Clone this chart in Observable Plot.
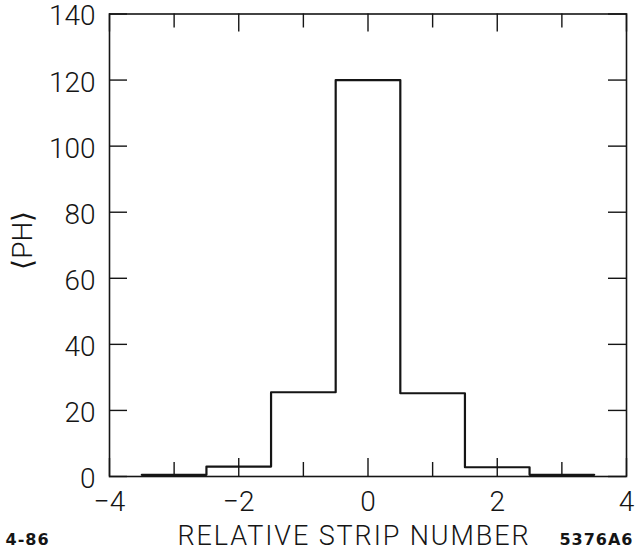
<!DOCTYPE html>
<html><head><meta charset="utf-8">
<script src="https://cdn.jsdelivr.net/npm/d3@7"></script>
<script src="https://cdn.jsdelivr.net/npm/@observablehq/plot@0.6"></script>
<style>body{margin:0;background:#fff}</style>
</head><body><div id="chart"></div>
<script>
// Data
const strips = [-3, -2, -1, 0, 1, 2, 3];
const meanPH = [0.5, 3, 25.5, 120, 25.2, 2.8, 0.5];
const xTicks = [-4, -2, 0, 2, 4];
const xMinorTicks = [-3, -1, 1, 3];
const yTicks = [0, 20, 40, 60, 80, 100, 120, 140];
const xLabel = "RELATIVE STRIP NUMBER";
const yLabel = "⟨PH⟩";
const dateNote = "4-86";
const figureId = "5376A6";

const W = 635, H = 552, mt = 13.5, mb = 76, ml = 109, mr = 9;
const innerW = W - ml - mr, innerH = H - mt - mb;
const ink = "#151515";

// step outline: left edge of each strip, plus the right edge of the last one
const stepData = strips.map((s, i) => ({x: s - 0.5, y: meanPH[i]}))
  .concat([{x: strips[strips.length - 1] + 0.5, y: meanPH[meanPH.length - 1]}]);

const font = {fontSize: 28, fontWeight: 300, fill: ink};

const chart = Plot.plot({
  width: W, height: H,
  marginTop: mt, marginBottom: mb, marginLeft: ml, marginRight: mr,
  style: {fontFamily: "Roboto, 'DejaVu Sans', sans-serif", background: "#fff", color: ink},
  x: {domain: [-4, 4]},
  y: {domain: [0, 140]},
  marks: [
    Plot.frame({stroke: ink, strokeWidth: 1.6}),
    // inward ticks, bottom & top
    Plot.tickX(xTicks, {x: d => d, insetTop: innerH - 18, stroke: ink, strokeWidth: 1.4}),
    Plot.tickX(xTicks, {x: d => d, insetBottom: innerH - 18, stroke: ink, strokeWidth: 1.4}),
    Plot.tickX(xMinorTicks, {x: d => d, insetTop: innerH - 14, stroke: ink, strokeWidth: 1.4}),
    Plot.tickX(xMinorTicks, {x: d => d, insetBottom: innerH - 14, stroke: ink, strokeWidth: 1.4}),
    // inward ticks, left & right
    Plot.tickY(yTicks, {y: d => d, insetRight: innerW - 18, stroke: ink, strokeWidth: 1.4}),
    Plot.tickY(yTicks, {y: d => d, insetLeft: innerW - 18, stroke: ink, strokeWidth: 1.4}),
    Plot.axisX(xTicks, {tickSize: 0, tickPadding: 15, label: null, ...font}),
    Plot.axisY(yTicks, {tickSize: 0, tickPadding: 14, dy: 2.5, label: null, ...font}),
    Plot.line(stepData, {x: "x", y: "y", curve: "step-after", stroke: ink, strokeWidth: 2.2}),
    Plot.text([yLabel], {frameAnchor: "left", dx: -86, dy: -5, rotate: -90, textAnchor: "middle", lineAnchor: "middle", ...font}),
    Plot.text([xLabel], {frameAnchor: "bottom", dx: -14, dy: 60, textAnchor: "middle", lineAnchor: "middle",
      fontSize: 27, fontWeight: 300, fill: ink}),
    Plot.text([dateNote], {frameAnchor: "bottom-left", dx: -104, dy: 63, textAnchor: "start", lineAnchor: "middle",
      fontSize: 16, fontWeight: "bold", fill: ink, fontFamily: "'DejaVu Sans', sans-serif"}),
    Plot.text([figureId], {frameAnchor: "bottom-right", dx: 7, dy: 63, textAnchor: "end", lineAnchor: "middle",
      fontSize: 16, fontWeight: "bold", fill: ink, fontFamily: "'DejaVu Sans', sans-serif"})
  ]
});
// widen the lettering of the axis title like the original stencil lettering
d3.select(chart).selectAll("text").filter(function() { return this.textContent === xLabel; })
  .style("letter-spacing", "1.9px");
d3.select(chart).selectAll("text").filter(function() { return this.textContent === figureId || this.textContent === dateNote; })
  .style("letter-spacing", "1px");
document.getElementById("chart").append(chart);
</script>
</body></html>
